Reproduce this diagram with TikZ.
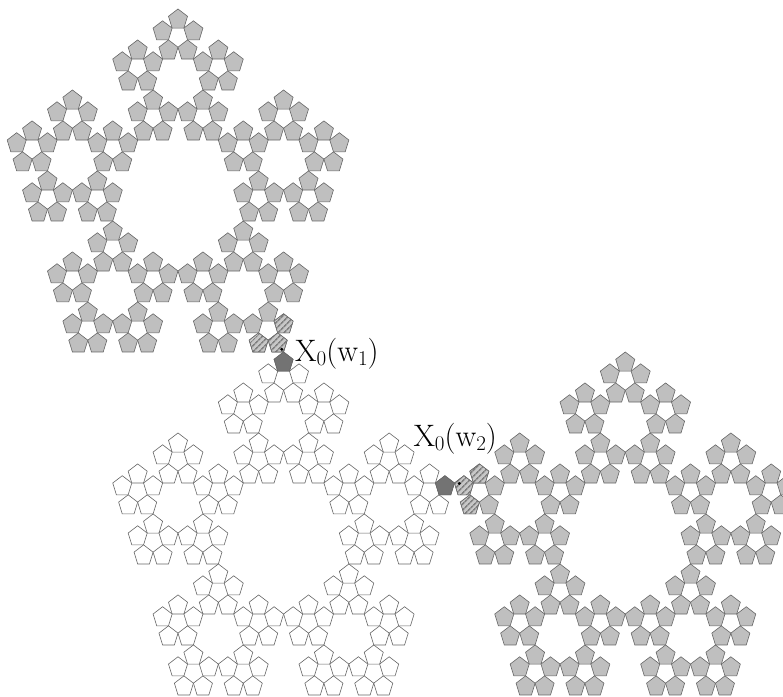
\documentclass[tikz,border=0pt]{standalone}
\usepackage{tikz}
\usetikzlibrary{patterns.meta}

% pentagasket of level 3: (1-r)R, r, r^3 R
\newcommand{\gasketR}{117.18}
\newcommand{\gasketr}{0.381966}
\newcommand{\pentrad}{10.566}
\newcommand{\drawpent}[4]{%
  \pgfmathsetmacro\pcx{\gasketR*(cos(90+72*#1)+\gasketr*cos(90+72*#2)+\gasketr*\gasketr*cos(90+72*#3))}%
  \pgfmathsetmacro\pcy{\gasketR*(sin(90+72*#1)+\gasketr*sin(90+72*#2)+\gasketr*\gasketr*sin(90+72*#3))}%
  \draw[#4, shift={(\pcx,\pcy)}] (90:\pentrad) -- (162:\pentrad) -- (234:\pentrad) -- (306:\pentrad) -- (18:\pentrad) -- cycle;%
}

\begin{document}
\begin{tikzpicture}[x=1pt, y=1pt]
\tikzset{
  pent/.style={draw=black!60, line width=0.6pt},
  grey/.style={pent, fill=black!25},
  blank/.style={pent, fill=white},
  dark/.style={pent, fill=black!55},
  hatch/.style={pent, preaction={fill=black!22}, pattern={Lines[angle=45, distance=4pt, line width=1.7pt]}, pattern color=black!50},
  dot/.style={circle, fill=black, inner sep=0pt, minimum size=3.2pt},
  lbl/.style={anchor=base west, inner sep=0pt, font=\fontsize{31}{36}\selectfont}
}
\path[use as bounding box] (0,0) rectangle (783,696);
\clip (0,0) rectangle (783,696);

% grey gasket, top left
\begin{scope}[shift={(178,497.4)}, xscale=0.9474]
  \foreach \i in {0,...,4} {
    \foreach \j in {0,...,4} {
      \foreach \k in {0,...,4} {\drawpent{\i}{\j}{\k}{grey}}}}
  \foreach \k in {2,3,4} {\drawpent{3}{3}{\k}{hatch}}
\end{scope}

% white gasket
\begin{scope}[shift={(283.59,154.4)}, xscale=0.9474]
  \foreach \i in {0,...,4} {
    \foreach \j in {0,...,4} {
      \foreach \k in {0,...,4} {\drawpent{\i}{\j}{\k}{blank}}}}
  \drawpent{0}{0}{0}{dark}
  \drawpent{4}{4}{4}{dark}
\end{scope}

% grey gasket, right
\begin{scope}[shift={(625.26,154.4)}, xscale=0.9474]
  \foreach \i in {0,...,4} {
    \foreach \j in {0,...,4} {
      \foreach \k in {0,...,4} {\drawpent{\i}{\j}{\k}{grey}}}}
  \foreach \k in {0,1,2} {\drawpent{1}{1}{\k}{hatch}}
\end{scope}

\node[dot] (xa) at (281.7,346.7) {};
\node[dot] (xb) at (459.3,212.5) {};
\node[lbl] (la) at (295,334.3) {X\raisebox{-4pt}{\fontsize{21}{21}\selectfont 0}(w\raisebox{-4pt}{\fontsize{21}{21}\selectfont 1})};
\node[lbl] (lb) at (413.3,249.3) {X\raisebox{-4pt}{\fontsize{21}{21}\selectfont 0}(w\raisebox{-4pt}{\fontsize{21}{21}\selectfont 2})};
\end{tikzpicture}
\end{document}
